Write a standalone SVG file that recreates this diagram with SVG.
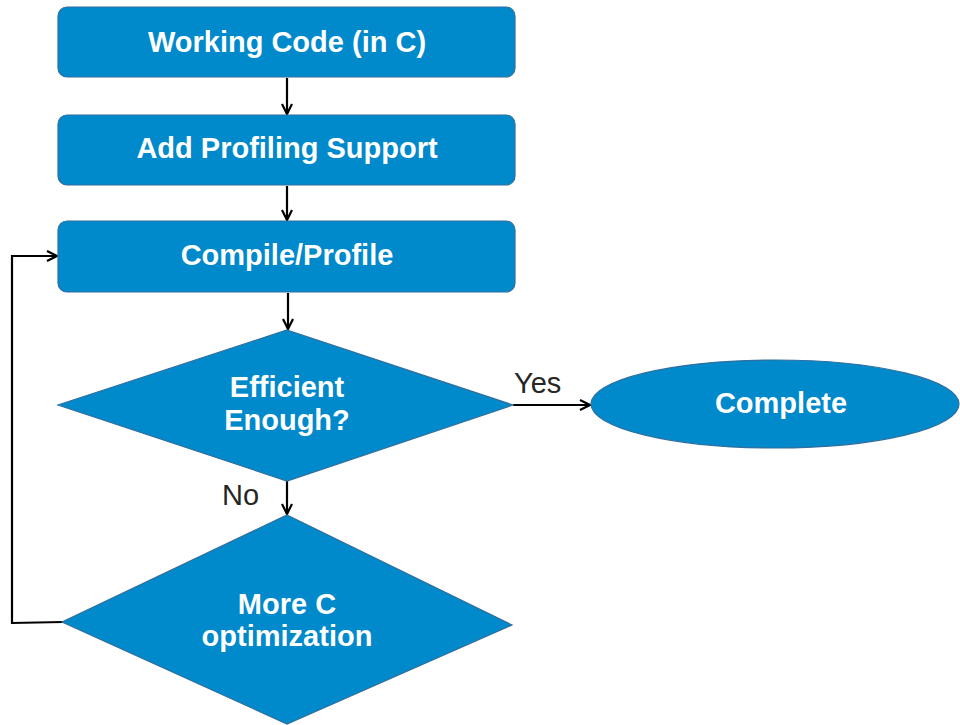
<svg xmlns="http://www.w3.org/2000/svg" width="960" height="725" viewBox="0 0 960 725">
  <style>
    .shape { fill: #0089cb; stroke: #2f6f9f; stroke-width: 1.2; }
    .label { font-family: "Liberation Sans", Arial, sans-serif; font-weight: bold; font-size: 29px; fill: #ffffff; text-anchor: middle; }
    .edge-label { font-family: "Liberation Sans", Arial, sans-serif; font-size: 29px; fill: #262626; }
    .link { fill: none; stroke: #000000; stroke-width: 2.2; }
  </style>
  <defs>
    <marker id="arrow" viewBox="0 0 12 12" refX="11" refY="6" markerWidth="12" markerHeight="12" markerUnits="userSpaceOnUse" orient="auto">
      <path d="M1,1 L11,6 L1,11" fill="none" stroke="#000000" stroke-width="2.2"/>
    </marker>
  </defs>
  <rect width="960" height="725" fill="#ffffff"/>

  <g id="connectors">
    <line class="link" x1="287" y1="78" x2="287" y2="114" marker-end="url(#arrow)"/>
    <line class="link" x1="287" y1="186" x2="287" y2="220" marker-end="url(#arrow)"/>
    <line class="link" x1="288" y1="293" x2="288" y2="329" marker-end="url(#arrow)"/>
    <line class="link" x1="287" y1="481" x2="287" y2="514" marker-end="url(#arrow)"/>
    <line class="link" x1="513" y1="405" x2="590" y2="405" marker-end="url(#arrow)"/>
    <polyline class="link" points="63,622 12,623 12,256 57,256" marker-end="url(#arrow)"/>
  </g>

  <g id="working-code">
    <rect class="shape" x="58" y="7" width="457" height="70" rx="9"/>
    <text class="label" x="287" y="52">Working Code (in C)</text>
  </g>
  <g id="add-profiling">
    <rect class="shape" x="58" y="115" width="457" height="70" rx="9"/>
    <text class="label" x="287" y="158">Add Profiling Support</text>
  </g>
  <g id="compile-profile">
    <rect class="shape" x="58" y="221" width="457" height="71" rx="9"/>
    <text class="label" x="287" y="265">Compile/Profile</text>
  </g>
  <g id="efficient-enough">
    <polygon class="shape" points="287,330 513,405 287,481 58,405"/>
    <text class="label" x="287" y="397">Efficient</text>
    <text class="label" x="287" y="430">Enough?</text>
  </g>
  <g id="complete">
    <ellipse class="shape" cx="775" cy="404" rx="184" ry="44"/>
    <text class="label" x="781" y="413">Complete</text>
  </g>
  <g id="more-optimization">
    <polygon class="shape" points="287,515 512,625 287,724 62,622"/>
    <text class="label" x="287" y="614">More C</text>
    <text class="label" x="287" y="646">optimization</text>
  </g>

  <text class="edge-label" x="514" y="393">Yes</text>
  <text class="edge-label" x="222" y="505">No</text>
</svg>
